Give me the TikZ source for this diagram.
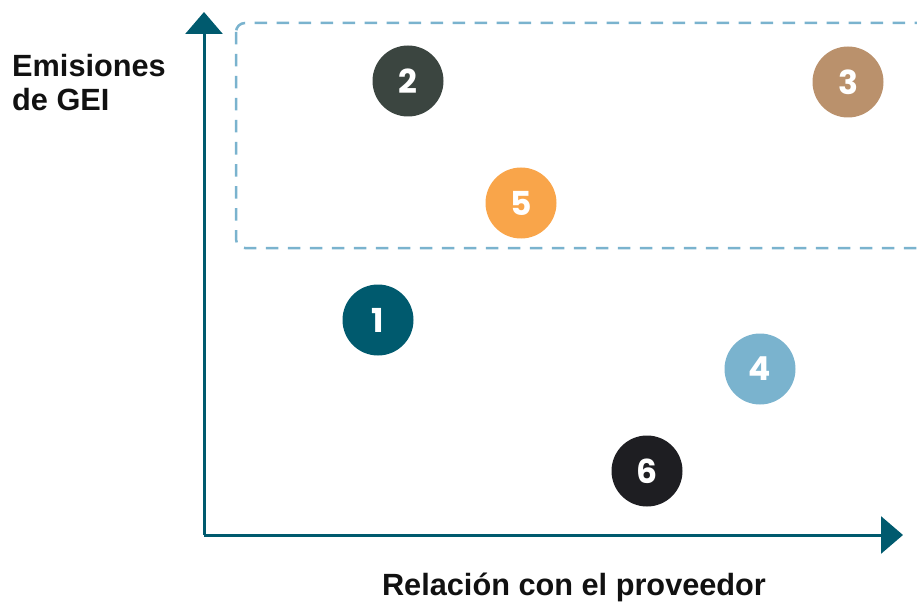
\documentclass[tikz,border=0pt]{standalone}
\usepackage{fontspec}
\setmainfont{Liberation Sans}
\newfontfamily\numfont{Poppins}
\usetikzlibrary{arrows.meta}
\definecolor{axisc}{HTML}{005A6E}
\definecolor{dashc}{HTML}{7AB3CE}
\definecolor{cone}{HTML}{005A6E}
\definecolor{ctwo}{HTML}{3B4540}
\definecolor{cthree}{HTML}{BA916C}
\definecolor{cfour}{HTML}{7AB3CE}
\definecolor{cfive}{HTML}{F9A54A}
\definecolor{csix}{HTML}{1E1E22}
\definecolor{txtc}{HTML}{111111}
\tikzset{
  dot/.style={circle, minimum size=71bp, inner sep=0pt, text=white,
    font=\numfont\bfseries\fontsize{33bp}{33bp}\selectfont},
  axisline/.style={draw=axisc, line width=3bp, -{Triangle[length=22bp,width=37bp]}},
  zone/.style={draw=dashc, line width=2.5bp, dash pattern=on 12.5bp off 9.5bp, rounded corners=9bp},
  lbl/.style={text=txtc, font=\bfseries\fontsize{30.7bp}{34bp}\selectfont, inner sep=0pt}
}
\begin{document}
\begin{tikzpicture}[x=1bp, y=-1bp]
\useasboundingbox (0,0) rectangle (917,603);
\draw[zone] (236,23) rectangle (950,248);
\coordinate (o) at (204,535);
\coordinate (ytip) at (204,12);
\coordinate (xtip) at (903,535);
\draw[axisline] (o) -- (ytip);
\draw[axisline] (o) -- (xtip);
\node[lbl, anchor=north west, align=left] (ylab) at (12,54) {Emisiones\\de GEI};
\node[lbl, anchor=base] (xlab) at (574,595) {Relación con el proveedor};
\node[dot, fill=cone] (n1) at (378,320) {1};
\node[dot, fill=ctwo] (n2) at (408,81) {2};
\node[dot, fill=cthree] (n3) at (848,82) {3};
\node[dot, fill=cfour] (n4) at (760,369) {4};
\node[dot, fill=cfive] (n5) at (521,203) {5};
\node[dot, fill=csix] (n6) at (647,471) {6};
\end{tikzpicture}
\end{document}
